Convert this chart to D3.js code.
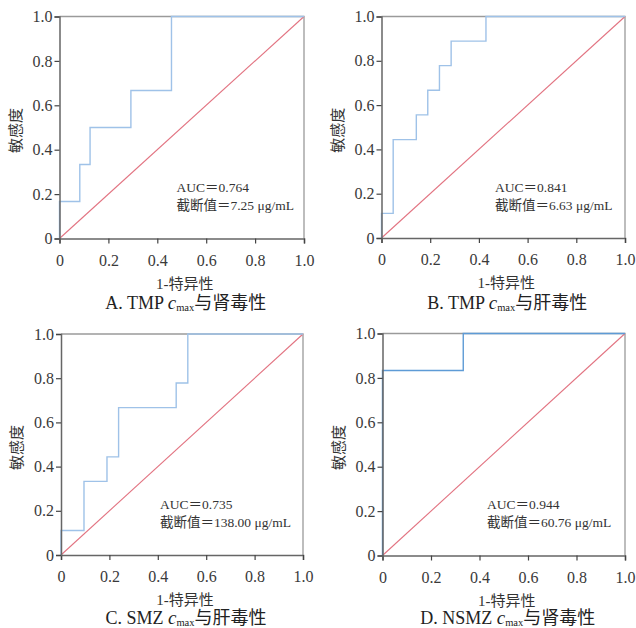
<!DOCTYPE html>
<html>
<head>
<meta charset="utf-8">
<script src="https://cdn.jsdelivr.net/npm/d3@7"></script>
<style>
  body { margin: 0; background: #fff; }
</style>
</head>
<body>
<div id="chart"></div>
<script>
// ROC step points (1-specificity, sensitivity)
const fprA = [0, 0, 0.083, 0.125, 0.292, 0.458, 1];
const tprA = [0, 0.167, 0.333, 0.5, 0.667, 1, 1];
const fprB = [0, 0, 0.048, 0.143, 0.190, 0.238, 0.286, 0.429, 1];
const tprB = [0, 0.111, 0.444, 0.556, 0.667, 0.778, 0.889, 1, 1];
const fprC = [0, 0, 0.095, 0.190, 0.238, 0.476, 0.524, 1];
const tprC = [0, 0.111, 0.333, 0.444, 0.667, 0.778, 1, 1];
const fprD = [0, 0, 0.333, 1];
const tprD = [0, 0.833, 1, 1];

const tickValues = [0, 0.2, 0.4, 0.6, 0.8, 1.0];
const tickLabels = ['0', '0.2', '0.4', '0.6', '0.8', '1.0'];

const aucLabels = ['AUC＝0.764', 'AUC＝0.841', 'AUC＝0.735', 'AUC＝0.944'];
const cutoffLabels = ['截断值＝7.25 μg/mL', '截断值＝6.63 μg/mL', '截断值＝138.00 μg/mL', '截断值＝60.76 μg/mL'];
const captionPrefix = ['A. TMP ', 'B. TMP ', 'C. SMZ ', 'D. NSMZ '];
const captionSuffix = ['与肾毒性', '与肝毒性', '与肝毒性', '与肾毒性'];
const xTitle = '1-特异性';
const yTitle = '敏感度';

const FONT = '"Liberation Serif", "Times New Roman", "Noto Sans CJK SC", serif';

const panels = [
    {fpr: fprA, tpr: tprA, x0: 59.5, x1: 304, y0: 16.5, y1: 238.5, color: '#9fc2e8', textX: 176.5, textY: 191.5, capY: 309},
    {fpr: fprB, tpr: tprB, x0: 381.5, x1: 625, y0: 16.5, y1: 238, color: '#9fc2e8', textX: 495, textY: 191.5, capY: 309},
    {fpr: fprC, tpr: tprC, x0: 61, x1: 303, y0: 334, y1: 555, color: '#9fc2e8', textX: 160, textY: 508.5, capY: 624},
    {fpr: fprD, tpr: tprD, x0: 382.5, x1: 625, y0: 333.5, y1: 555.5, color: '#5e9bd6', textX: 487, textY: 508.5, capY: 624}
];

const svg = d3.select('#chart').append('svg')
    .attr('width', 636)
    .attr('height', 628)
    .style('font-family', FONT);

panels.forEach((p, i) => {
    const x = d3.scaleLinear().domain([0, 1]).range([p.x0, p.x1]);
    const y = d3.scaleLinear().domain([0, 1]).range([p.y1, p.y0]);
    const g = svg.append('g');

    // frame top / right
    g.append('path')
        .attr('d', `M${x(0)},${y(1)}H${x(1)}V${y(0)}`)
        .attr('fill', 'none')
        .attr('stroke', '#9a9a9a')
        .attr('stroke-width', 1.3);

    // diagonal reference
    const diag = d3.line().x(d => x(d)).y(d => y(d));
    g.append('path')
        .datum([0, 1])
        .attr('d', diag)
        .attr('fill', 'none')
        .attr('stroke', '#e27381')
        .attr('stroke-width', 1.1);

    // ROC curve
    const pts = p.fpr.map((f, k) => [f, p.tpr[k]]);
    const line = d3.line()
        .x(d => x(d[0]))
        .y(d => y(d[1]))
        .curve(d3.curveStepAfter);
    g.append('path')
        .datum(pts)
        .attr('d', line)
        .attr('fill', 'none')
        .attr('stroke', p.color)
        .attr('stroke-width', 1.4);

    // axes
    const xAxis = d3.axisBottom(x).tickValues(tickValues)
        .tickFormat((d, k) => tickLabels[k]).tickSizeOuter(0).tickSize(5).tickPadding(11);
    const yAxis = d3.axisLeft(y).tickValues(tickValues)
        .tickFormat((d, k) => tickLabels[k]).tickSizeOuter(0).tickSize(5).tickPadding(2);

    const gx = g.append('g')
        .attr('transform', `translate(0,${p.y1})`)
        .call(xAxis);
    const gy = g.append('g')
        .attr('transform', `translate(${p.x0},0)`)
        .call(yAxis);

    [gx, gy].forEach(a => {
        a.attr('font-family', null).attr('font-size', null);
        a.select('.domain').attr('stroke', '#666').attr('stroke-width', 1.5);
        a.selectAll('.tick line').attr('stroke', '#444').attr('stroke-width', 1.2);
        a.selectAll('.tick text')
            .attr('fill', '#3a3a3a')
            .style('font-family', FONT)
            .style('font-size', '16px');
    });

    // axis titles
    const cx = (p.x0 + p.x1) / 2;
    g.append('text')
        .attr('x', cx + 3)
        .attr('y', p.y1 + 50)
        .attr('text-anchor', 'middle')
        .attr('fill', '#333')
        .style('font-size', '15px')
        .text(xTitle);

    const cy = (p.y0 + p.y1) / 2;
    g.append('text')
        .attr('transform', `translate(${p.x0 - 39},${cy + 3}) rotate(-90)`)
        .attr('text-anchor', 'middle')
        .attr('fill', '#333')
        .style('font-size', '15px')
        .text(yTitle);

    // AUC / cut-off annotation
    g.append('text')
        .attr('x', p.textX)
        .attr('y', p.textY)
        .attr('fill', '#333')
        .style('font-size', '13.5px')
        .text(aucLabels[i]);
    g.append('text')
        .attr('x', p.textX)
        .attr('y', p.textY + 18.5)
        .attr('fill', '#333')
        .style('font-size', '13.5px')
        .text(cutoffLabels[i]);

    // panel caption
    const cap = g.append('text')
        .attr('x', cx + 4)
        .attr('y', p.capY)
        .attr('text-anchor', 'middle')
        .attr('fill', '#222')
        .style('font-size', '18px');
    cap.append('tspan').text(captionPrefix[i]);
    cap.append('tspan').style('font-style', 'italic').style('font-size', '19px').text('c');
    cap.append('tspan').attr('dy', 1.5).style('font-size', '10.5px').text('max');
    cap.append('tspan').attr('dy', -1.5).text(captionSuffix[i]);
});
</script>
</body>
</html>
